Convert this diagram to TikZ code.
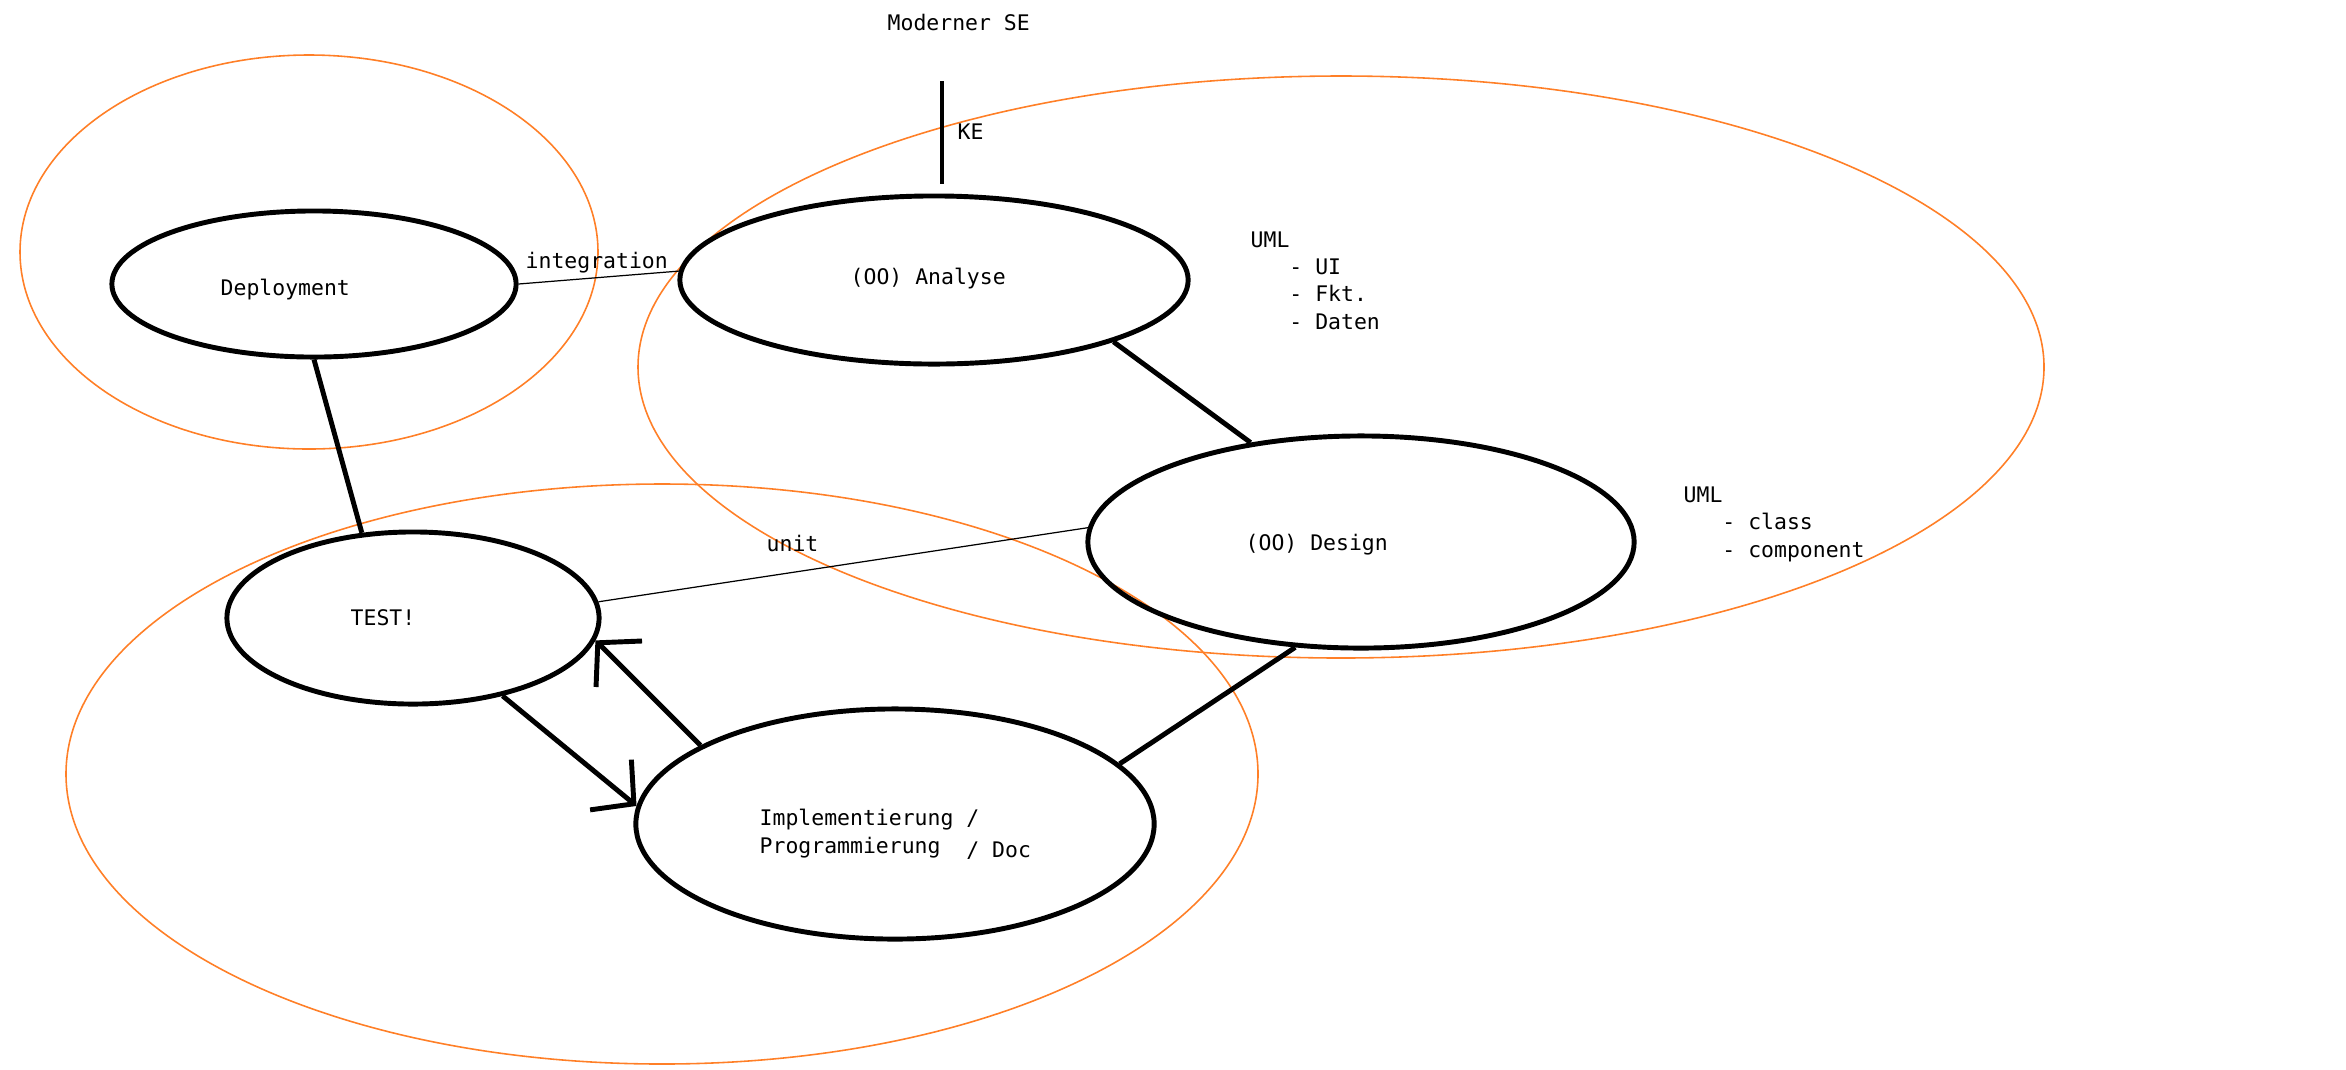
\documentclass[tikz,border=0pt]{standalone}
\usepackage{fontspec}
\setmainfont{DejaVu Sans Mono}
\usetikzlibrary{arrows.meta}
\usetikzlibrary{shapes.geometric}
\definecolor{paintorange}{RGB}{255,127,39}
\tikzset{>={Straight Barb[length=3mm, width=6.5mm]}}
\tikzstyle{stage} = [draw, ellipse, line width=1.4pt, inner sep=0]
\tikzstyle{group} = [draw=paintorange, line width=0.45pt]
\tikzstyle{heavy} = [line width=1.4pt]
\tikzstyle{fine} = [line width=0.35pt]
\tikzstyle{txt} = [inner sep=0, anchor=base west, align=left, font=\fontsize{6.1}{7.7}\selectfont]

\begin{document}
\begin{tikzpicture}[x=0.01cm, y=-0.01cm]
\useasboundingbox (0,0) rectangle (2346,1069);
% groups
\draw [group] (309,252) ellipse [x radius=289, y radius=197];
\draw [group] (1341,367) ellipse [x radius=703, y radius=291];
\draw [group] (662,774) ellipse [x radius=596, y radius=290];
% stages
\node [stage, minimum width=4.04cm, minimum height=1.46cm] (Dep) at (314,284) {};
\node [stage, minimum width=5.08cm, minimum height=1.68cm] (Ana) at (934,280) {};
\node [stage, minimum width=5.46cm, minimum height=2.12cm] (Des) at (1361,542) {};
\node [stage, minimum width=3.72cm, minimum height=1.72cm] (Tst) at (413,618) {};
\node [stage, minimum width=5.18cm, minimum height=2.30cm] (Imp) at (895,824) {};
\node [txt] (DepT) at (220,295) {Deployment};
\node [txt] (AnaT) at (850,284) {(OO) Analyse};
\node [txt] (DesT) at (1245,550) {(OO) Design};
\node [txt] (TstT) at (350,625) {TEST!};
% multi-line texts: base is the last line
\node [txt] (ImpT) at (759,853) {Implementierung /\\Programmierung\ \ \raisebox{-0.04cm}{/ Doc}};
% notes
\node [txt] (Top) at (887,30) {Moderner SE};
\node [txt] (KE) at (957,139) {KE};
\node [txt] (UMLa) at (1250,329) {UML\\\phantom{UML}- UI\\\phantom{UML}- Fkt.\\\phantom{UML}- Daten};
\node [txt] (UMLb) at (1683,557) {UML\\\phantom{UML}- class\\\phantom{UML}- component};
\node [txt] (Int) at (525,268) {integration};
\node [txt] (Unit) at (766,551) {unit};
% connectors
\coordinate (KEa) at (942,81);
\coordinate (KEb) at (942,184);
\draw [heavy] (KEa) -- (KEb);
\draw [fine] (Dep.east) -- (Ana.178);
\draw [heavy] (Ana.-19) -- (Des.138);
\draw [heavy] (Dep.south) -- (Tst.121);
\draw [fine] (Des.177) -- (Tst.5);
\draw [heavy] (Des.-122) -- (Imp.15);
\draw [heavy, ->] (Tst.-41) -- (Imp.176);
\draw [heavy, ->] (Imp.158) -- (Tst.-7);
\end{tikzpicture}
\end{document}
